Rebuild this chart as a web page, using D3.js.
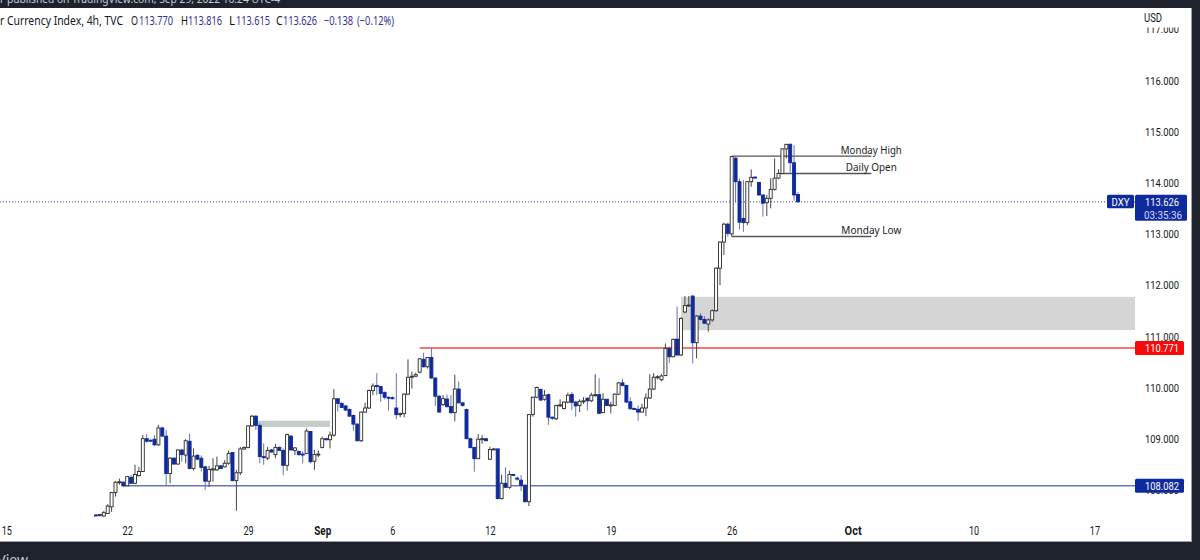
<!DOCTYPE html>
<html>
<head>
<meta charset="utf-8">
<title>DXY 4h</title>
<script src="https://cdn.jsdelivr.net/npm/d3@7"></script>
<style>
  body { margin: 0; background: #1e222d; }
  svg { display: block; }
  text { font-family: Roboto, sans-serif; }
  .head text, .notes text { font-family: 'Noto Sans', sans-serif; }
</style>
</head>
<body>
<svg id="chart" width="1200" height="560"></svg>
<script>
// bars, 4h
const opens = [
  107.51,107.50,107.49,107.54,107.67,107.95,108.15,108.15,108.08,108.245,
  108.13,108.28,108.36,109.00,108.97,108.99,108.88,109.21,109.05,108.32,
  108.62,108.505,108.78,108.68,108.95,108.42,108.675,108.62,108.45,108.17,
  108.40,108.39,108.47,108.45,108.52,108.73,108.18,108.335,108.80,108.83,
  109.25,109.44,109.26,108.65,108.62,108.78,108.69,108.83,108.77,108.48,
  109.05,108.77,108.75,108.70,108.71,109.14,108.56,108.69,108.83,109.00,
  108.98,109.07,109.78,109.69,109.64,109.57,109.455,109.285,108.96,109.52,
  109.60,109.94,110.04,110.02,109.905,109.81,109.80,109.60,109.47,109.49,
  109.87,110.20,110.22,110.30,110.55,110.405,110.585,110.185,109.83,109.665,
  109.775,109.63,109.51,109.97,109.70,109.57,109.00,108.83,108.61,108.99,
  109.00,108.60,108.79,108.80,107.83,108.13,108.05,108.30,108.23,108.19,
  108.09,107.77,109.47,109.81,109.96,109.77,109.86,109.42,109.39,109.65,
  109.59,109.715,109.865,109.715,109.65,109.73,109.79,109.74,109.85,109.86,
  109.51,109.77,109.65,109.65,109.87,110.09,110.04,109.72,109.59,109.575,
  109.52,109.60,109.795,109.97,110.20,110.15,110.235,110.765,110.60,110.945,
  110.635,111.475,111.60,111.785,110.875,111.395,111.33,111.24,111.32,111.50,
  112.33,112.84,113.19,113.00,114.48,114.02,113.30,113.22,114.02,114.11,
  114.005,113.76,113.61,113.695,113.87,114.09,114.18,114.66,114.75,114.39,113.77
]
const highs = [
  107.53,107.53,107.59,107.72,107.96,108.17,108.22,108.17,108.27,108.29,
  108.49,108.45,109.07,109.09,108.99,109.07,109.27,109.235,109.17,108.64,
  108.64,108.79,108.79,108.99,109.10,108.81,108.70,108.675,108.47,108.47,
  108.62,108.65,108.48,108.58,108.77,108.74,108.39,108.84,108.85,109.26,
  109.46,109.46,109.30,108.91,108.84,108.80,108.90,108.85,108.81,109.10,
  109.07,108.84,108.77,108.75,109.20,109.15,108.78,108.77,109.04,109.02,
  109.14,109.97,109.79,109.71,109.66,109.59,109.47,109.30,109.53,109.70,
  109.96,110.08,110.28,110.03,109.92,109.82,109.83,110.28,109.51,109.885,
  110.55,110.31,110.29,110.575,110.68,110.59,110.771,110.20,109.85,109.85,
  109.86,109.85,110.25,110.12,109.72,109.59,109.02,108.84,109.09,109.07,
  109.01,108.84,108.82,108.81,108.30,108.44,108.375,108.31,108.26,108.29,
  108.115,109.48,109.82,110.02,109.98,109.95,109.885,109.43,109.665,109.77,
  109.73,109.90,109.91,109.74,109.77,109.81,109.81,109.90,110.26,110.18,
  109.885,109.78,109.72,109.885,110.11,110.17,110.055,109.81,109.61,109.65,
  109.68,109.885,110.26,110.28,110.24,110.26,110.86,110.80,110.955,111.58,
  111.37,111.785,111.785,111.81,111.415,111.45,111.395,111.35,111.525,112.35,
  112.855,113.22,113.22,114.52,114.50,114.085,114.05,114.03,114.26,114.12,
  114.02,113.77,113.76,114.085,114.475,114.26,114.67,114.755,114.77,114.735,113.816
]
const lows = [
  107.49,107.48,107.48,107.53,107.57,107.87,108.10,108.06,108.07,108.115,
  108.11,108.26,108.35,108.92,108.95,108.86,108.86,109.04,108.095,108.13,
  108.49,108.49,108.55,108.52,108.40,108.375,108.58,108.36,108.00,108.06,
  108.16,108.375,108.41,108.44,108.49,108.17,107.59,108.29,108.78,108.81,
  109.23,109.17,108.52,108.49,108.58,108.73,108.62,108.76,108.29,108.375,
  108.77,108.68,108.66,108.52,108.70,108.52,108.39,108.64,108.81,108.96,
  108.81,109.04,109.53,109.60,109.54,109.43,109.155,108.95,108.935,109.51,
  109.58,109.85,109.85,109.72,109.77,109.55,109.77,109.38,109.42,109.42,
  109.85,109.98,110.20,110.275,110.39,110.37,110.17,109.64,109.51,109.64,
  109.61,109.48,109.34,109.69,109.625,108.99,108.81,108.355,108.60,108.90,
  108.95,108.58,108.78,107.815,107.815,108.035,108.02,108.28,108.18,107.98,
  107.75,107.685,109.43,109.79,109.74,109.74,109.27,109.365,109.365,109.625,
  109.57,109.69,109.56,109.43,109.52,109.68,109.55,109.715,109.82,109.48,
  109.495,109.64,109.495,109.64,109.85,110.02,109.70,109.57,109.56,109.35,
  109.51,109.44,109.775,109.95,110.16,110.13,110.22,110.48,110.59,110.615,
  110.615,111.45,111.58,110.47,110.57,111.305,111.24,111.09,111.285,111.48,
  112.00,112.59,112.95,112.95,113.61,113.09,113.04,113.17,113.92,114.09,
  113.745,113.335,113.35,113.50,113.845,114.07,114.17,114.475,114.195,113.65,113.615
]
const closes = [
  107.50,107.52,107.555,107.685,107.95,108.15,108.16,108.08,108.26,108.13,
  108.30,108.36,109.00,108.95,108.96,108.88,109.21,109.05,108.32,108.62,
  108.505,108.78,108.69,108.96,108.42,108.66,108.60,108.44,108.17,108.40,
  108.41,108.47,108.415,108.52,108.71,108.18,108.335,108.80,108.83,109.25,
  109.44,109.26,108.65,108.64,108.77,108.74,108.83,108.77,108.48,109.08,
  108.78,108.82,108.69,108.69,109.15,108.55,108.69,108.70,109.00,108.98,
  109.07,109.78,109.69,109.61,109.56,109.44,109.285,108.96,109.52,109.60,
  109.94,110.03,110.02,109.885,109.81,109.80,109.78,109.47,109.49,109.87,
  110.20,110.22,110.25,110.56,110.405,110.585,110.185,109.83,109.52,109.78,
  109.625,109.51,109.97,109.70,109.65,109.00,108.825,108.61,108.99,109.00,
  108.96,108.79,108.80,107.83,108.13,108.05,108.30,108.29,108.21,108.09,
  107.77,109.47,109.81,110.00,109.755,109.85,109.42,109.40,109.65,109.66,
  109.715,109.85,109.71,109.64,109.73,109.74,109.74,109.85,109.86,109.495,
  109.77,109.65,109.66,109.87,110.09,110.04,109.715,109.585,109.58,109.52,
  109.60,109.795,109.97,110.20,110.21,110.225,110.765,110.60,110.94,110.635,
  111.35,111.60,111.61,110.875,111.395,111.33,111.255,111.32,111.50,112.33,
  112.84,113.19,113.01,114.51,114.02,113.23,113.22,114.02,114.105,114.10,
  113.76,113.60,113.695,113.87,114.09,114.18,114.66,114.75,114.39,113.76,113.626
]

// time axis, position is the bar number
const dayBars = [-23, 8, 39, 58, 76, 101, 132, 163, 194, 225, 256]
const dayLabels = ['15', '22', '29', 'Sep', '6', '12', '19', '26', 'Oct', '10', '17']
const monthLabels = ['Sep', 'Oct']

const priceTicks = [108, 109, 110, 111, 112, 113, 114, 115, 116, 117]

// levels drawn on the chart
const lastPrice = 113.626
const redLevel = 110.771
const blueLevel = 108.082
const mondayHigh = 114.52
const mondayLow = 112.95
const dailyOpen = 114.18
const bigZone = [111.12, 111.77]
const smallZone = [109.23, 109.35]
const countdown = '03:35:36'

const DARK = '#1e222d'
const BLUE = '#0f2a9c'
const WICK_DOWN = '#6b72b5'
const WICK_UP = '#444'
const INK = '#131722'
const PRICE_W = 34 // the TradingView digits are narrower than anything installed

const svg = d3.select('#chart')

// scales: 3.9px a bar, plot ends where the price axis starts
const xScale = d3.scaleLinear().domain([-24.615, 266.41]).range([0, 1135])
const yScale = d3.scaleLinear().domain([108, 117]).range([489.9, 29.1])
const plotRight = xScale.domain()[1]

function squeeze(sel, width) {
  sel.attr('textLength', width).attr('lengthAdjust', 'spacingAndGlyphs')
}

// frame
svg.append('rect').attr('width', 1200).attr('height', 560).attr('fill', DARK)
svg.append('rect').attr('y', 8).attr('width', 1191).attr('height', 533).attr('fill', '#fff')
svg.append('rect').attr('y', 541).attr('width', 1191.5).attr('height', 1).attr('fill', '#9aa0a8')
svg.append('rect').attr('x', 1191).attr('y', 8).attr('width', 1).attr('height', 534).attr('fill', '#9aa0a8')

// zones
function zone(from, to, prices, color) {
  svg.append('rect')
    .attr('x', xScale(from))
    .attr('width', xScale(to) - xScale(from))
    .attr('y', yScale(prices[1]))
    .attr('height', yScale(prices[0]) - yScale(prices[1]))
    .attr('fill', color)
}
zone(150, plotRight, bigZone, '#d5d5d5')
zone(41.5, 60, smallZone, '#c5cdc9')

// level lines
function level(from, to, price, color, width, dash) {
  svg.append('line')
    .attr('x1', xScale(from))
    .attr('x2', xScale(to))
    .attr('y1', yScale(price))
    .attr('y2', yScale(price))
    .attr('stroke', color)
    .attr('stroke-width', width)
    .attr('stroke-dasharray', dash || null)
}
level(-24.6, plotRight, lastPrice, '#2a3f9f', 1, '1 2')
level(83, plotRight, redLevel, '#f0484a', 1.3)
level(7, plotRight, blueLevel, '#6478b4', 1.5)
level(163, 198.8, mondayHigh, '#555', 1.4)
level(175, 198.8, dailyOpen, '#555', 1.4)
level(163, 198.8, mondayLow, '#555', 1.4)

// candles
const bars = svg.append('g').selectAll('g')
  .data(d3.range(opens.length))
  .join('g')

bars.append('line')
  .attr('x1', i => xScale(i))
  .attr('x2', i => xScale(i))
  .attr('y1', i => yScale(highs[i]))
  .attr('y2', i => yScale(lows[i]))
  .attr('stroke', i => closes[i] >= opens[i] ? WICK_UP : WICK_DOWN)
  .attr('stroke-width', 1)

bars.append('rect')
  .attr('x', i => xScale(i) - 1.5)
  .attr('width', 3)
  .attr('y', i => yScale(Math.max(opens[i], closes[i])))
  .attr('height', i => Math.max(1, Math.abs(yScale(opens[i]) - yScale(closes[i]))))
  .attr('fill', i => closes[i] >= opens[i] ? '#fff' : BLUE)
  .attr('stroke', i => closes[i] >= opens[i] ? '#2a2a2a' : BLUE)
  .attr('stroke-width', 0.9)

// notes on the levels
const notes = svg.append('g').attr('class', 'notes')
  .attr('font-size', 11.5).attr('fill', '#222').attr('text-anchor', 'middle')
function note(label, width, price) {
  notes.append('text')
    .attr('x', xScale(198.8))
    .attr('y', yScale(price) - 2.5)
    .text(label)
    .call(squeeze, width)
}
note('Monday High', 61, mondayHigh)
note('Daily Open', 51, dailyOpen)
note('Monday Low', 60, mondayLow)

// time axis
const xAxis = d3.axisBottom(xScale)
  .tickValues(dayBars)
  .tickFormat((d, i) => dayLabels[i])
  .tickSize(0)
  .tickPadding(0)
svg.append('g')
  .attr('transform', 'translate(0,526)')
  .call(xAxis)
  .call(g => g.select('.domain').remove())
  .selectAll('text')
  .attr('fill', INK)
  .attr('font-size', 12)
  .attr('font-weight', (d, i) => monthLabels.includes(dayLabels[i]) ? 'bold' : 'normal')
  .attr('textLength', (d, i) => monthLabels.includes(dayLabels[i]) ? 17 : dayLabels[i].length * 5.1)
  .attr('lengthAdjust', 'spacingAndGlyphs')

// price axis
const yAxis = d3.axisRight(yScale)
  .tickValues(priceTicks)
  .tickFormat(d3.format('.3f'))
  .tickSize(0)
  .tickPadding(10)
svg.append('g')
  .attr('transform', 'translate(1135,0)')
  .call(yAxis)
  .call(g => g.select('.domain').remove())
  .selectAll('text')
  .attr('fill', INK)
  .attr('font-size', 11.6)
  .call(squeeze, PRICE_W)

// header strip hides the top of the 117 label
svg.append('rect').attr('x', 1136).attr('y', 8).attr('width', 55).attr('height', 19.5).attr('fill', '#fff')
svg.append('text').attr('x', 1144).attr('y', 22).attr('font-size', 12).attr('fill', INK).text('USD').call(squeeze, 18)

// price tags
function tag(x, w, price, h, color, label) {
  const top = yScale(price) - 7
  svg.append('rect').attr('x', x).attr('y', top).attr('width', w).attr('height', h)
    .attr('rx', 1.5).attr('fill', color)
  svg.append('text').attr('x', 1145).attr('y', top + 11)
    .attr('font-size', 11.6).attr('fill', '#fff').text(label).call(squeeze, PRICE_W)
}
tag(1135, 49, redLevel, 14, '#f50b0b', d3.format('.3f')(redLevel))
tag(1135, 49, blueLevel, 14, BLUE, d3.format('.3f')(blueLevel))
tag(1135, 52, lastPrice, 26, BLUE, d3.format('.3f')(lastPrice))
svg.append('text').attr('x', 1144).attr('y', yScale(lastPrice) + 17)
  .attr('font-size', 11.6).attr('fill', '#d5dcf5').text(countdown).call(squeeze, 38)
svg.append('rect').attr('x', 1107).attr('y', yScale(lastPrice) - 7).attr('width', 27).attr('height', 13.5)
  .attr('rx', 1.5).attr('fill', BLUE)
svg.append('text').attr('x', 1111.5).attr('y', yScale(lastPrice) + 4)
  .attr('font-size', 11.6).attr('fill', '#fff').text('DXY').call(squeeze, 18)

// legend line, cut by the left edge as in the screenshot
const fmt = d3.format('.3f')
const last = opens.length - 1
const head = svg.append('g').attr('class', 'head').attr('font-size', 12)
const headBlue = '#2f3390'
function headText(x, label, color, width) {
  const t = head.append('text').attr('x', x).attr('y', 24.5).attr('fill', color).text(label)
  if (width) t.call(squeeze, width)
}
headText(0, 'r Currency Index, 4h, TVC', INK, 123)
headText(131, 'O', INK, 7)
headText(139, fmt(opens[last]), headBlue, PRICE_W)
headText(181, 'H', INK, 7)
headText(188, fmt(highs[last]), headBlue, PRICE_W)
headText(229, 'L', INK, 6)
headText(236, fmt(lows[last]), headBlue, PRICE_W)
headText(276, 'C', INK, 6.5)
headText(283, fmt(closes[last]), headBlue, PRICE_W)
headText(324, '\u22120.138', headBlue, 29)
headText(357, '(\u22120.12%)', headBlue, 37)

// lines of the screenshot around the chart, mostly cut off
svg.append('text').attr('x', 0).attr('y', 2.5).attr('font-size', 11).attr('fill', '#c9ccd3')
  .style('font-family', "'Noto Sans', sans-serif")
  .text('r published on TradingView.com, Sep 29, 2022 16:24 UTC-4')
  .call(squeeze, 280)
svg.append('text').attr('x', 28).attr('y', 565).attr('font-size', 14).attr('fill', '#c9ccd3')
  .attr('text-anchor', 'end')
  .style('font-family', "'Noto Sans', sans-serif")
  .text('TradingView')
</script>
</body>
</html>
